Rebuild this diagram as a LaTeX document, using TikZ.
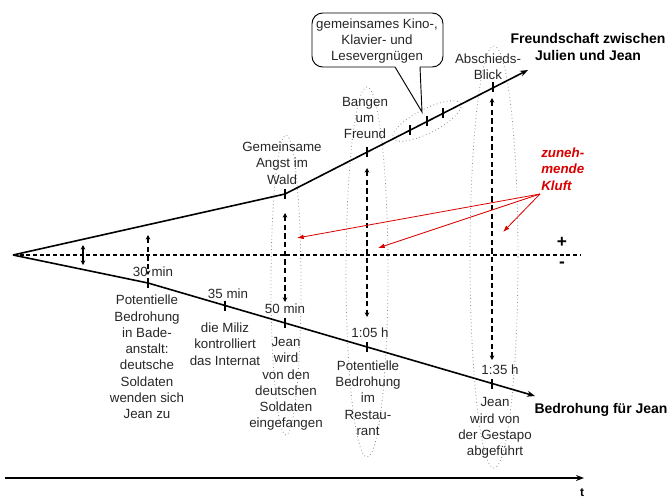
\documentclass[tikz,border=0pt]{standalone}
\usepackage{fontspec}
\setmainfont{Liberation Sans}
\usetikzlibrary{arrows.meta,calc}
\begin{document}
\begin{tikzpicture}[x=0.75pt,y=-0.75pt,
  lbl/.style={align=center,font=\fontsize{10}{12.2}\selectfont,inner sep=0pt,text=black!85},
  blbl/.style={align=center,font=\fontsize{10.5}{12.6}\selectfont\bfseries,inner sep=0pt},
  mainline/.style={line width=1.2pt},
  tickmark/.style={line width=1.8pt},
  vdash/.style={line width=1.1pt,dash pattern=on 4pt off 2.5pt,{Stealth[length=3.5pt,width=3.5pt]}-{Stealth[length=3.5pt,width=3.5pt]}},
  oval/.style={draw=black!45,dotted,line width=0.6pt},
  redarrow/.style={red!85!black,line width=0.6pt,-{Latex[length=5pt,width=3.5pt]}}
]
\useasboundingbox (0,0) rectangle (670,499);

% key coordinates
\coordinate (apex) at (13,255);
\coordinate (uk) at (285,194);
\coordinate (uend) at (528,70);
\coordinate (lk) at (148,283);
\coordinate (lend) at (535,396);
\coordinate (dend) at (580,255);
\coordinate (tstart) at (5,478);
\coordinate (tend) at (584,478);

% ticks on upper line
\coordinate (tu2) at (367,152);
\coordinate (tu3) at (410,130);
\coordinate (tu4) at (427,121);
\coordinate (tu5) at (443,113);
\coordinate (tu6) at (493,87);
% ticks on lower line
\coordinate (tl2) at (225,305.5);
\coordinate (tl3) at (285,323);
\coordinate (tl4) at (367,347);
\coordinate (tl5) at (492,383.5);

% dotted ovals
\draw[oval] (286,285) ellipse [x radius=15,y radius=150];
\draw[oval] (367,272) ellipse [x radius=21,y radius=185];
\draw[oval] (494,257) ellipse [x radius=24,y radius=211];
\draw[oval,rotate around={27:(427,121)}] (427,121) ellipse [x radius=38,y radius=12];

% dashed zero line
\draw[line width=0.8pt,dash pattern=on 3pt off 2pt] (apex) -- (dend);

% main lines
\draw[mainline,-{Stealth[length=6pt,width=4.5pt]}] (apex) -- (uk) -- (uend);
\draw[mainline,-{Stealth[length=6pt,width=4.5pt]}] (apex) -- (lk) -- (lend);
\draw[line width=1pt,-{Stealth[length=6pt,width=4.5pt]}] (tstart) -- (tend);

% ticks
\foreach \c in {uk,tu2,tu3,tu4,tu5,tu6,lk,tl2,tl3,tl4,tl5}
  \draw[tickmark] ($(\c)+(0,-5)$) -- ($(\c)+(0,5)$);

% vertical gap arrows
\coordinate (a1t) at (83,245); \coordinate (a1b) at (83,265);
\coordinate (a2t) at (148,235); \coordinate (a2b) at (148,275);
\coordinate (a3t) at (285,213); \coordinate (a3b) at (285,302);
\coordinate (a4t) at (367,168); \coordinate (a4b) at (367,317);
\coordinate (a5t) at (492,98); \coordinate (a5b) at (492,360);
\draw[line width=1.1pt,{Stealth[length=3.5pt,width=3.5pt]}-{Stealth[length=3.5pt,width=3.5pt]}] (a1t) -- (a1b);
\draw[vdash] (a2t) -- (a2b);
\draw[vdash] (a3t) -- (a3b);
\draw[vdash] (a4t) -- (a4b);
\draw[vdash] (a5t) -- (a5b);

% upper labels
\node[lbl] (angst) at (282,163) {Gemeinsame\\Angst im\\Wald};
\node[lbl] (bangen) at (365,118) {Bangen\\um\\Freund};
\node[lbl] (blick) at (488,67) {Abschieds-\\Blick};
\node[blbl] (freund) at (588,47) {Freundschaft zwischen\\Julien und Jean};

% callout
\node[lbl] (callout) at (377,41) {gemeinsames Kino-,\\Klavier- und\\Lesevergnügen};
\draw[line width=0.7pt,rounded corners=8] (420,67) -- (443,67) -- (443,13) -- (312,13) -- (312,67) -- (395,67);
\coordinate (ctip) at (422,112);
\draw[line width=0.7pt] (395,67) -- (ctip) -- (420,67);

% time labels
\node[lbl] (m30) at (153,272) {30 min};
\node[lbl] (m35) at (228,294) {35 min};
\node[lbl] (m50) at (285,309) {50 min};
\node[lbl] (h105) at (370,333) {1:05 h};
\node[lbl] (h135) at (500,370) {1:35 h};

% lower labels
\node[lbl] (bade) at (147,357) {Potentielle\\Bedrohung\\in Bade-\\anstalt:\\deutsche\\Soldaten\\wenden sich\\Jean zu};
\node[lbl] (miliz) at (225,344) {die Miliz\\kontrolliert\\das Internat};
\node[lbl] (gefangen) at (286,384) {Jean\\wird\\von den\\deutschen\\Soldaten\\eingefangen};
\node[lbl] (restaurant) at (368,398) {Potentielle\\Bedrohung\\im\\Restau-\\rant};
\node[lbl] (gestapo) at (495,428) {Jean\\wird von\\der Gestapo\\abgeführt};
\node[blbl] (bedrohung) at (601,410) {Bedrohung für Jean};

% plus / minus / t
\node[blbl,font=\fontsize{13}{14}\selectfont\bfseries] (plus) at (562,242) {+};
\node[blbl,font=\fontsize{13}{14}\selectfont\bfseries] (minus) at (562,265) {-};
\node[blbl,font=\fontsize{9}{10}\selectfont\bfseries] (t) at (582,493) {t};

% Kluft
\node[lbl,align=left,anchor=west,text=red!85!black,font=\fontsize{10}{12.2}\selectfont\bfseries\itshape] (kluft) at (541,169) {zuneh-\\mende\\Kluft};
\coordinate (ks) at (540,194);
\coordinate (k1) at (297,238);
\coordinate (k2) at (378,248);
\coordinate (k3) at (503,232);
\draw[redarrow] (ks) -- (k1);
\draw[redarrow] (ks) -- (k2);
\draw[redarrow] (ks) -- (k3);
\end{tikzpicture}
\end{document}
